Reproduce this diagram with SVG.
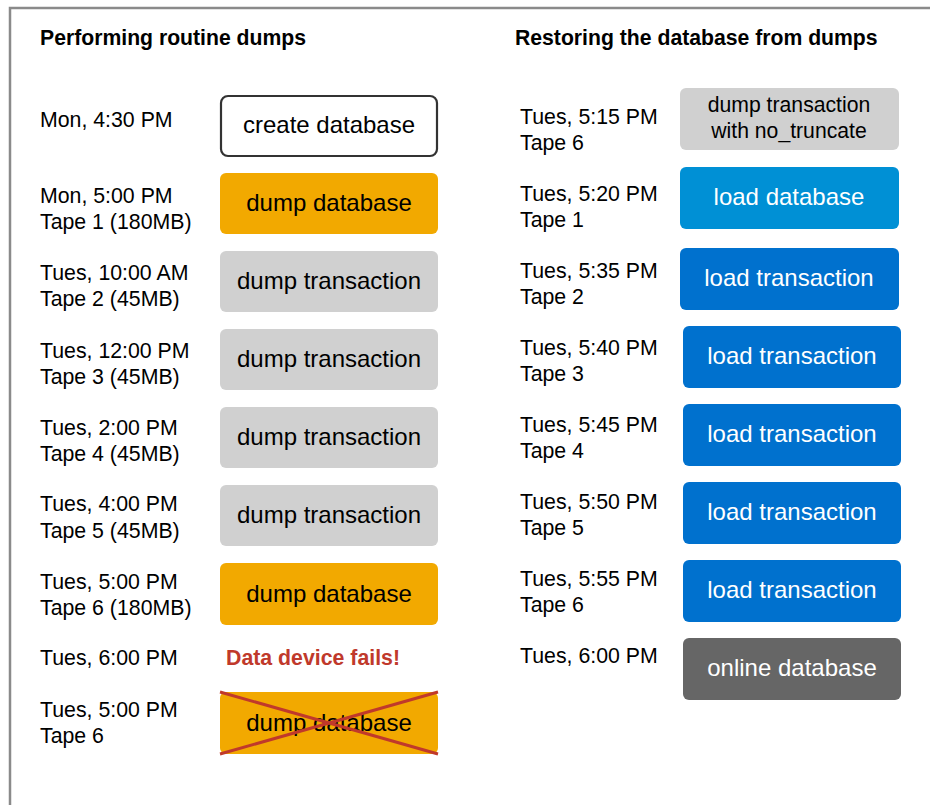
<svg xmlns="http://www.w3.org/2000/svg" width="930" height="805" viewBox="0 0 930 805">
<style>
text{font-family:"Liberation Sans",Arial,sans-serif;}
.title{font-size:21.2px;font-weight:bold;fill:#000;}
.lbl{font-size:21.3px;fill:#000;}
.bt{font-size:24px;text-anchor:middle;fill:#000;}
.wt{font-size:24px;text-anchor:middle;fill:#fff;}
.create{fill:#fff;stroke:#333;stroke-width:2.2;}
.orange{fill:#F2A900;}
.gray{fill:#D0D0D0;}
.lblue{fill:#0090D5;}
.blue{fill:#0071CE;}
.dark{fill:#666666;}
.cross{stroke:#C0392B;stroke-width:3;}
</style>
<rect x="10" y="8" width="940" height="820" fill="none" stroke="#8a8a8a" stroke-width="2.5"/>
<text class="title" x="40" y="45">Performing routine dumps</text>
<text class="title" x="515" y="45">Restoring the database from dumps</text>

<g id="labels-left">
<text class="lbl" x="40" y="127">Mon, 4:30 PM</text>
<text class="lbl" x="40" y="203">Mon, 5:00 PM</text>
<text class="lbl" x="40" y="229">Tape 1 (180MB)</text>
<text class="lbl" x="40" y="280">Tues, 10:00 AM</text>
<text class="lbl" x="40" y="306">Tape 2 (45MB)</text>
<text class="lbl" x="40" y="358">Tues, 12:00 PM</text>
<text class="lbl" x="40" y="384">Tape 3 (45MB)</text>
<text class="lbl" x="40" y="435">Tues, 2:00 PM</text>
<text class="lbl" x="40" y="461">Tape 4 (45MB)</text>
<text class="lbl" x="40" y="511">Tues, 4:00 PM</text>
<text class="lbl" x="40" y="538">Tape 5 (45MB)</text>
<text class="lbl" x="40" y="589">Tues, 5:00 PM</text>
<text class="lbl" x="40" y="615">Tape 6 (180MB)</text>
<text class="lbl" x="40" y="665">Tues, 6:00 PM</text>
<text class="lbl" x="40" y="717">Tues, 5:00 PM</text>
<text class="lbl" x="40" y="743">Tape 6</text>
</g>

<g id="n-create"><rect class="create" x="221" y="96" width="216" height="60" rx="7"/><text class="bt" x="329" y="133">create database</text></g>
<g id="n-dumpdb1"><rect class="orange" x="220" y="173" width="218" height="61" rx="6"/><text class="bt" x="329" y="211">dump database</text></g>
<g id="n-dt2"><rect class="gray" x="220" y="251" width="218" height="61" rx="6"/><text class="bt" x="329" y="289">dump transaction</text></g>
<g id="n-dt3"><rect class="gray" x="220" y="329" width="218" height="61" rx="6"/><text class="bt" x="329" y="367">dump transaction</text></g>
<g id="n-dt4"><rect class="gray" x="220" y="407" width="218" height="61" rx="6"/><text class="bt" x="329" y="445">dump transaction</text></g>
<g id="n-dt5"><rect class="gray" x="220" y="485" width="218" height="61" rx="6"/><text class="bt" x="329" y="523">dump transaction</text></g>
<g id="n-dumpdb6"><rect class="orange" x="220" y="563" width="218" height="62" rx="6"/><text class="bt" x="329" y="602">dump database</text></g>
<g id="n-fail"><text x="226" y="665" style="font-size:21.3px;font-weight:bold;fill:#C0392B;">Data device fails!</text></g>
<g id="n-dumpdb-x"><rect class="orange" x="220" y="692" width="218" height="62" rx="6"/><text class="bt" x="329" y="731">dump database</text>
<line class="cross" x1="220" y1="692" x2="438" y2="754"/><line class="cross" x1="220" y1="754" x2="438" y2="692"/></g>

<g id="labels-right">
<text class="lbl" x="520" y="124">Tues, 5:15 PM</text>
<text class="lbl" x="520" y="150">Tape 6</text>
<text class="lbl" x="520" y="201">Tues, 5:20 PM</text>
<text class="lbl" x="520" y="227">Tape 1</text>
<text class="lbl" x="520" y="278">Tues, 5:35 PM</text>
<text class="lbl" x="520" y="304">Tape 2</text>
<text class="lbl" x="520" y="355">Tues, 5:40 PM</text>
<text class="lbl" x="520" y="381">Tape 3</text>
<text class="lbl" x="520" y="432">Tues, 5:45 PM</text>
<text class="lbl" x="520" y="458">Tape 4</text>
<text class="lbl" x="520" y="509">Tues, 5:50 PM</text>
<text class="lbl" x="520" y="535">Tape 5</text>
<text class="lbl" x="520" y="586">Tues, 5:55 PM</text>
<text class="lbl" x="520" y="612">Tape 6</text>
<text class="lbl" x="520" y="663">Tues, 6:00 PM</text>
</g>

<g id="n-dtnt"><rect class="gray" x="680" y="88" width="219" height="62" rx="6"/><text x="789" y="112" style="font-size:21.2px;text-anchor:middle;fill:#000;">dump transaction</text><text x="789" y="138" style="font-size:21.2px;text-anchor:middle;fill:#000;">with no_truncate</text></g>
<g id="n-loaddb"><rect class="lblue" x="680" y="167" width="219" height="62" rx="6"/><text class="wt" x="789" y="205">load database</text></g>
<g id="n-lt2"><rect class="blue" x="680" y="248" width="219" height="62" rx="6"/><text class="wt" x="789" y="286">load transaction</text></g>
<g id="n-lt3"><rect class="blue" x="683" y="326" width="218" height="62" rx="6"/><text class="wt" x="792" y="364">load transaction</text></g>
<g id="n-lt4"><rect class="blue" x="683" y="404" width="218" height="62" rx="6"/><text class="wt" x="792" y="442">load transaction</text></g>
<g id="n-lt5"><rect class="blue" x="683" y="482" width="218" height="62" rx="6"/><text class="wt" x="792" y="520">load transaction</text></g>
<g id="n-lt6"><rect class="blue" x="683" y="560" width="218" height="62" rx="6"/><text class="wt" x="792" y="598">load transaction</text></g>
<g id="n-online"><rect class="dark" x="683" y="638" width="218" height="62" rx="6"/><text class="wt" x="792" y="676">online database</text></g>
<g id="connectors"/>
</svg>
